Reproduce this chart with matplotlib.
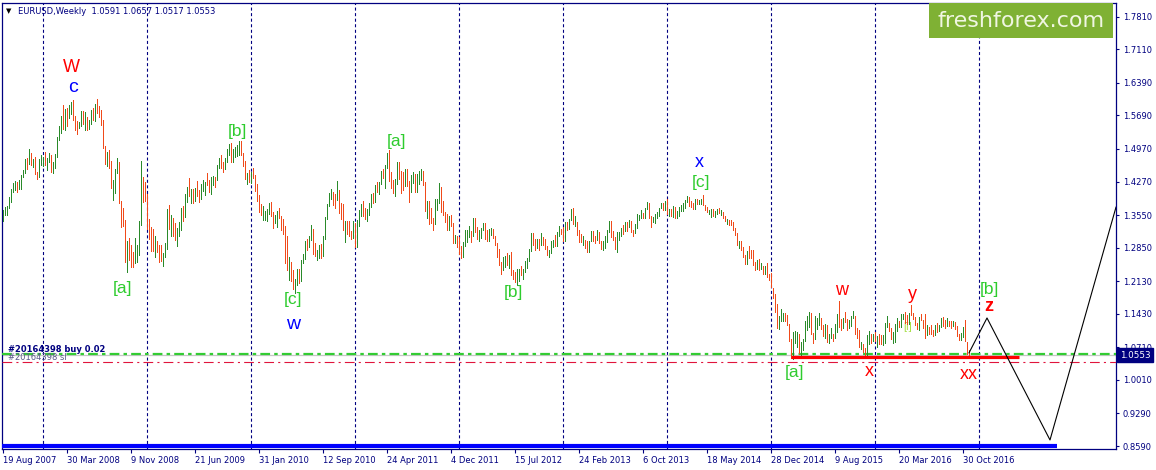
import numpy as np
import matplotlib
matplotlib.use("Agg")
import matplotlib.pyplot as plt
from matplotlib.patches import Rectangle
from matplotlib.transforms import blended_transform_factory

plt.rcParams['lines.scale_dashes'] = False
plt.rcParams['font.family'] = ['DejaVu Sans']

# ---------------- DATA (weekly EURUSD, (high, low, close)) ----------------
first_open = 1.351
bars_2007 = [(1.365,1.343,1.358),(1.372,1.356,1.369),(1.374,1.355,1.372),(1.393,1.371,1.388),
             (1.411,1.383,1.409),(1.423,1.404,1.422),(1.428,1.409,1.423),(1.427,1.405,1.418),
             (1.430,1.411,1.428),(1.441,1.412,1.440),(1.452,1.436,1.449),(1.475,1.446,1.468),
             (1.478,1.453,1.465),(1.497,1.464,1.482),(1.489,1.462,1.466),(1.476,1.458,1.466),
             (1.480,1.444,1.444),(1.448,1.432,1.437),(1.475,1.436,1.473),(1.484,1.463,1.475)]
bars_2008 = [(1.480,1.460,1.478),(1.490,1.463,1.465),(1.478,1.452,1.468),(1.489,1.470,1.483),
             (1.484,1.448,1.450),(1.469,1.445,1.460),(1.486,1.457,1.483),(1.523,1.479,1.520),
             (1.546,1.516,1.535),(1.568,1.532,1.566),(1.591,1.539,1.543),(1.583,1.538,1.578),
             (1.584,1.546,1.569),(1.592,1.563,1.580),(1.597,1.572,1.592),(1.602,1.559,1.561),
             (1.567,1.538,1.546),(1.557,1.529,1.537),(1.555,1.542,1.552),(1.579,1.547,1.577),
             (1.578,1.550,1.554),(1.576,1.538,1.574),(1.566,1.537,1.546),(1.560,1.540,1.556),
             (1.580,1.551,1.577),(1.584,1.560,1.565),(1.593,1.558,1.590),(1.604,1.575,1.577),
             (1.590,1.565,1.572),(1.580,1.549,1.554),(1.559,1.500,1.500),(1.504,1.465,1.468),
             (1.491,1.460,1.486),(1.494,1.457,1.467),(1.471,1.414,1.422),(1.430,1.388,1.423),
             (1.453,1.403,1.446),(1.478,1.446,1.462),(1.470,1.380,1.380),(1.385,1.330,1.345),
             (1.370,1.331,1.341),(1.344,1.254,1.270),(1.300,1.233,1.297),(1.305,1.259,1.271),
             (1.290,1.244,1.270),(1.276,1.244,1.258),(1.306,1.252,1.270),(1.291,1.255,1.279),
             (1.342,1.269,1.338),(1.472,1.334,1.437),(1.437,1.384,1.404),(1.427,1.385,1.398)]
bars_2009 = [(1.400,1.325,1.342),(1.347,1.303,1.322),(1.330,1.278,1.283),(1.326,1.278,1.280),
             (1.311,1.265,1.298),(1.299,1.276,1.287),(1.291,1.255,1.285),(1.290,1.257,1.266),
             (1.274,1.246,1.267),(1.296,1.266,1.291),(1.369,1.283,1.358),(1.376,1.325,1.327),
             (1.355,1.311,1.348),(1.349,1.310,1.318),(1.338,1.301,1.303),(1.327,1.289,1.325),
             (1.340,1.311,1.328),(1.370,1.322,1.365),(1.375,1.343,1.351),(1.400,1.350,1.397),
             (1.416,1.383,1.414),(1.434,1.397,1.399),(1.410,1.381,1.402),(1.411,1.380,1.399),
             (1.413,1.386,1.411),(1.428,1.395,1.397),(1.409,1.384,1.395),(1.421,1.389,1.413),
             (1.430,1.407,1.420),(1.425,1.398,1.424),(1.446,1.419,1.420),(1.431,1.405,1.418),
             (1.436,1.400,1.434),(1.440,1.419,1.436),(1.436,1.415,1.432),(1.463,1.430,1.458),
             (1.478,1.456,1.471),(1.484,1.457,1.468),(1.470,1.448,1.456),(1.477,1.453,1.474),
             (1.496,1.469,1.490),(1.508,1.485,1.502),(1.509,1.469,1.471),(1.496,1.468,1.491),
             (1.502,1.479,1.491),(1.506,1.482,1.496),(1.514,1.483,1.500),(1.514,1.485,1.485),
             (1.489,1.461,1.461),(1.472,1.433,1.434),(1.445,1.421,1.434),(1.451,1.426,1.433)]
bars_2010 = [(1.447,1.424,1.441),(1.457,1.435,1.438),(1.441,1.407,1.414),(1.421,1.385,1.387),
             (1.399,1.362,1.367),(1.379,1.355,1.360),(1.374,1.344,1.361),(1.364,1.344,1.363),
             (1.369,1.343,1.363),(1.381,1.357,1.377),(1.383,1.352,1.354),(1.362,1.327,1.342),
             (1.356,1.337,1.348),(1.364,1.329,1.358),(1.370,1.349,1.350),(1.353,1.323,1.339),
             (1.346,1.315,1.329),(1.331,1.253,1.276),(1.309,1.236,1.236),(1.266,1.216,1.258),
             (1.254,1.214,1.227),(1.238,1.196,1.197),(1.217,1.188,1.212),(1.240,1.204,1.239),
             (1.239,1.210,1.236),(1.258,1.214,1.256),(1.271,1.253,1.264),(1.299,1.260,1.293),
             (1.303,1.280,1.291),(1.311,1.286,1.306),(1.333,1.301,1.328),(1.325,1.272,1.276),
             (1.294,1.267,1.271),(1.279,1.259,1.276),(1.290,1.262,1.290),(1.293,1.263,1.269),
             (1.311,1.268,1.306),(1.350,1.303,1.349),(1.379,1.347,1.378),(1.403,1.375,1.396),
             (1.412,1.389,1.397),(1.404,1.377,1.396),(1.400,1.371,1.394),(1.428,1.388,1.402),
             (1.408,1.359,1.368),(1.380,1.346,1.366),(1.379,1.324,1.325),(1.342,1.298,1.340),
             (1.343,1.315,1.329),(1.343,1.311,1.318),(1.321,1.303,1.312),(1.343,1.306,1.337)]
bars_2011 = [(1.339,1.287,1.290),(1.345,1.287,1.340),(1.365,1.331,1.360),(1.378,1.354,1.369),
             (1.386,1.353,1.358),(1.370,1.347,1.349),(1.369,1.343,1.369),(1.382,1.355,1.375),
             (1.400,1.372,1.399),(1.402,1.380,1.390),(1.420,1.383,1.418),(1.425,1.404,1.410),
             (1.425,1.401,1.424),(1.450,1.421,1.448),(1.453,1.435,1.443),(1.462,1.414,1.458),
             (1.488,1.456,1.481),(1.494,1.429,1.433),(1.447,1.414,1.418),(1.431,1.402,1.416),
             (1.432,1.397,1.431),(1.469,1.422,1.465),(1.470,1.432,1.434),(1.450,1.403,1.432),
             (1.448,1.409,1.421),(1.454,1.418,1.450),(1.455,1.418,1.419),(1.428,1.384,1.415),
             (1.442,1.404,1.436),(1.448,1.424,1.440),(1.444,1.404,1.425),(1.443,1.405,1.426),
             (1.449,1.421,1.441),(1.454,1.431,1.450),(1.450,1.419,1.419),(1.426,1.363,1.365),
             (1.386,1.349,1.379),(1.385,1.336,1.350),(1.370,1.339,1.339),(1.349,1.322,1.337),
             (1.389,1.336,1.380),(1.390,1.366,1.390),(1.424,1.380,1.415),(1.415,1.361,1.378),
             (1.385,1.355,1.375),(1.362,1.341,1.352),(1.357,1.322,1.324),(1.354,1.323,1.346),
             (1.355,1.331,1.338),(1.339,1.295,1.304),(1.312,1.294,1.305),(1.309,1.286,1.296)]
bars_2012 = [(1.308,1.271,1.272),(1.288,1.262,1.268),(1.297,1.266,1.294),(1.323,1.289,1.313),
             (1.323,1.298,1.315),(1.332,1.307,1.319),(1.321,1.297,1.316),(1.349,1.310,1.345),
             (1.349,1.318,1.320),(1.329,1.303,1.311),(1.323,1.300,1.318),(1.328,1.306,1.327),
             (1.339,1.322,1.334),(1.338,1.304,1.309),(1.323,1.299,1.308),(1.326,1.299,1.322),
             (1.327,1.312,1.323),(1.325,1.306,1.308),(1.310,1.290,1.292),(1.294,1.264,1.278),
             (1.283,1.248,1.252),(1.254,1.229,1.241),(1.266,1.238,1.264),(1.267,1.244,1.264),
             (1.274,1.247,1.251),(1.269,1.241,1.266),(1.275,1.227,1.228),(1.238,1.217,1.225),
             (1.233,1.212,1.216),(1.240,1.204,1.238),(1.240,1.213,1.239),(1.245,1.227,1.229),
             (1.240,1.218,1.234),(1.256,1.232,1.251),(1.263,1.242,1.258),(1.282,1.256,1.280),
             (1.317,1.278,1.313),(1.317,1.290,1.298),(1.304,1.280,1.286),(1.304,1.284,1.303),
             (1.304,1.280,1.295),(1.317,1.291,1.303),(1.308,1.290,1.294),(1.303,1.282,1.283),
             (1.288,1.270,1.271),(1.280,1.266,1.275),(1.299,1.273,1.297),(1.301,1.286,1.299),
             (1.312,1.289,1.293),(1.318,1.288,1.317),(1.331,1.311,1.322),(1.326,1.314,1.319)]
bars_2013 = [(1.330,1.300,1.307),(1.340,1.300,1.339),(1.340,1.323,1.331),(1.346,1.325,1.346),
             (1.369,1.344,1.364),(1.371,1.335,1.336),(1.352,1.331,1.336),(1.340,1.312,1.318),
             (1.324,1.298,1.302),(1.315,1.297,1.300),(1.311,1.291,1.307),(1.302,1.285,1.299),
             (1.299,1.275,1.282),(1.300,1.275,1.300),(1.321,1.300,1.311),(1.320,1.300,1.305),
             (1.309,1.294,1.303),(1.324,1.302,1.311),(1.319,1.295,1.297),(1.300,1.282,1.284),
             (1.300,1.280,1.293),(1.311,1.285,1.300),(1.324,1.298,1.322),(1.342,1.318,1.335),
             (1.342,1.308,1.311),(1.320,1.301,1.301),(1.308,1.282,1.282),(1.318,1.275,1.307),
             (1.318,1.301,1.313),(1.328,1.311,1.328),(1.334,1.314,1.327),(1.340,1.320,1.340),
             (1.340,1.321,1.333),(1.345,1.330,1.338),(1.343,1.319,1.322),(1.324,1.310,1.319),
             (1.335,1.317,1.330),(1.357,1.328,1.352),(1.355,1.344,1.353),(1.365,1.349,1.356),
             (1.360,1.348,1.355),(1.370,1.348,1.368),(1.383,1.367,1.380),(1.382,1.348,1.349),
             (1.353,1.329,1.336),(1.351,1.340,1.349),(1.357,1.338,1.356),(1.362,1.349,1.359),
             (1.370,1.353,1.370),(1.381,1.370,1.374),(1.381,1.365,1.367),(1.386,1.366,1.375)]
bars_2014 = [(1.389,1.358,1.359),(1.369,1.352,1.368),(1.369,1.352,1.354),(1.374,1.350,1.368),
             (1.373,1.348,1.349),(1.363,1.348,1.363),(1.372,1.353,1.369),(1.377,1.364,1.373),
             (1.382,1.364,1.380),(1.388,1.371,1.387),(1.397,1.383,1.391),(1.394,1.374,1.378),
             (1.385,1.372,1.375),(1.382,1.367,1.370),(1.390,1.368,1.388),(1.390,1.379,1.381),
             (1.388,1.378,1.385),(1.389,1.378,1.387),(1.399,1.376,1.376),(1.377,1.365,1.370),
             (1.373,1.361,1.363),(1.366,1.358,1.363),(1.367,1.350,1.364),(1.368,1.352,1.355),
             (1.364,1.351,1.361),(1.368,1.357,1.364),(1.371,1.359,1.360),(1.365,1.355,1.360),
             (1.362,1.349,1.352),(1.353,1.342,1.343),(1.346,1.336,1.343),(1.345,1.333,1.341),
             (1.345,1.333,1.340),(1.340,1.324,1.324),(1.327,1.313,1.313),(1.317,1.290,1.295),
             (1.300,1.285,1.297),(1.300,1.280,1.283),(1.286,1.266,1.268),(1.270,1.250,1.252),
             (1.277,1.250,1.276),(1.289,1.262,1.272),(1.280,1.262,1.267),(1.280,1.247,1.252),
             (1.255,1.236,1.244),(1.258,1.240,1.252),(1.261,1.236,1.239),(1.252,1.240,1.245),
             (1.246,1.228,1.229),(1.246,1.228,1.244),(1.253,1.223,1.226),(1.229,1.216,1.223)]
bars_2015 = [(1.230,1.200,1.200),(1.199,1.176,1.184),(1.186,1.146,1.156),(1.164,1.112,1.121),
             (1.139,1.110,1.129),(1.153,1.127,1.132),(1.144,1.127,1.139),(1.144,1.128,1.138),
             (1.140,1.119,1.119),(1.122,1.084,1.084),(1.088,1.049,1.049),(1.104,1.046,1.082),
             (1.105,1.081,1.089),(1.104,1.072,1.097),(1.100,1.059,1.060),(1.083,1.052,1.081),
             (1.089,1.066,1.087),(1.127,1.084,1.120),(1.139,1.108,1.120),(1.147,1.114,1.145),
             (1.145,1.099,1.101),(1.101,1.081,1.099),(1.138,1.089,1.111),(1.133,1.110,1.127),
             (1.144,1.119,1.135),(1.134,1.110,1.116),(1.118,1.096,1.109),(1.120,1.092,1.116),
             (1.119,1.082,1.083),(1.100,1.081,1.098),(1.113,1.091,1.098),(1.099,1.085,1.096),
             (1.121,1.091,1.112),(1.142,1.103,1.138),(1.171,1.115,1.118),(1.132,1.108,1.115),
             (1.135,1.113,1.134),(1.146,1.126,1.130),(1.132,1.108,1.121),(1.129,1.112,1.121),
             (1.139,1.117,1.134),(1.149,1.133,1.135),(1.139,1.100,1.102),(1.113,1.091,1.100),
             (1.109,1.071,1.074),(1.083,1.067,1.077),(1.078,1.062,1.065),(1.070,1.055,1.060),
             (1.098,1.052,1.088),(1.106,1.078,1.099),(1.100,1.080,1.087),(1.099,1.085,1.097)]
bars_2016 = [(1.103,1.085,1.087),(1.095,1.071,1.093),(1.099,1.078,1.092),(1.097,1.078,1.080),
             (1.098,1.077,1.083),(1.123,1.080,1.116),(1.138,1.114,1.125),(1.123,1.107,1.113),
             (1.112,1.088,1.093),(1.103,1.080,1.101),(1.122,1.082,1.116),(1.134,1.106,1.127),
             (1.127,1.115,1.118),(1.143,1.115,1.139),(1.142,1.131,1.140),(1.146,1.123,1.128),
             (1.141,1.121,1.123),(1.145,1.121,1.145),(1.162,1.140,1.140),(1.144,1.131,1.131),
             (1.136,1.119,1.122),(1.124,1.110,1.113),(1.137,1.109,1.136),(1.142,1.129,1.131),
             (1.130,1.113,1.128),(1.142,1.091,1.112),(1.118,1.097,1.114),(1.115,1.100,1.105),
             (1.118,1.100,1.104),(1.108,1.095,1.098),(1.118,1.097,1.117),(1.124,1.104,1.109),
             (1.119,1.107,1.117),(1.135,1.115,1.132),(1.136,1.117,1.120),(1.130,1.113,1.115),
             (1.133,1.117,1.125),(1.127,1.117,1.124),(1.127,1.113,1.122),(1.128,1.116,1.124),
             (1.126,1.110,1.120),(1.116,1.096,1.097),(1.100,1.086,1.089),(1.101,1.086,1.098),
             (1.114,1.094,1.113),(1.130,1.085,1.085),(1.082,1.057,1.059),(1.0657,1.0517,1.0553)]

date_labels = ["19 Aug 2007", "30 Mar 2008", "9 Nov 2008", "21 Jun 2009", "31 Jan 2010",
               "12 Sep 2010", "24 Apr 2011", "4 Dec 2011", "15 Jul 2012", "24 Feb 2013",
               "6 Oct 2013", "18 May 2014", "28 Dec 2014", "9 Aug 2015", "20 Mar 2016",
               "30 Oct 2016"]
date_label_idx = [0, 32, 64, 96, 128, 160, 192, 224, 256, 288, 320, 352, 384, 416, 448, 480]
grid_idx = [20, 72, 124, 176, 228, 280, 332, 384, 436, 488]
price_ticks = [1.7810, 1.7110, 1.6390, 1.5690, 1.4970, 1.4270, 1.3550, 1.2850,
               1.2130, 1.1430, 1.0710, 1.0010, 0.9290, 0.8590]

bid_price = 1.0553
order_price = 1.0556
sl_price = 1.0390
support_price = 1.0500
support_idx = [394, 508]
projection_idx = [483, 492, 523.5, 556.5]
projection_price = [1.059, 1.134, 0.872, 1.372]
bottom_bar_idx = [-0.5, 527]
bottom_bar_price = 0.8583

header_text = "EURUSD,Weekly  1.0591 1.0657 1.0517 1.0553"
order_text = "#20164398 buy 0.02"
sl_text = "#20164398 sl"

RED, BLUE, GREEN = '#ff0000', '#0000ff', '#2ecc2e'
wave_labels = [
    ("W", 34, 1.673, RED, 13, 'normal'),
    ("c", 35, 1.628, BLUE, 14, 'normal'),
    ("[a]", 60, 1.198, GREEN, 12.5, 'normal'),
    ("[b]", 117, 1.535, GREEN, 12.5, 'normal'),
    ("[c]", 145, 1.173, GREEN, 12.5, 'normal'),
    ("w", 145, 1.119, BLUE, 14, 'normal'),
    ("[a]", 197, 1.512, GREEN, 12.5, 'normal'),
    ("[b]", 255, 1.188, GREEN, 12.5, 'normal'),
    ("x", 348, 1.467, BLUE, 13, 'normal'),
    ("[c]", 349, 1.424, GREEN, 12.5, 'normal'),
    ("w", 419.5, 1.194, RED, 13, 'normal'),
    ("x", 433, 1.018, RED, 13, 'normal'),
    ("y", 454.5, 1.184, RED, 13, 'normal'),
    ("[b]", 493, 1.196, GREEN, 12.5, 'normal'),
    ("z", 493, 1.159, RED, 13, 'bold'),
    ("[a]", 395.5, 1.016, GREEN, 12.5, 'normal'),
    ("xx", 483, 1.013, RED, 13, 'normal'),
]

# ---------------- BUILD ----------------
bars = bars_2007 + bars_2008 + bars_2009 + bars_2010 + bars_2011 + bars_2012 + \
       bars_2013 + bars_2014 + bars_2015 + bars_2016
highs = np.array([b[0] for b in bars])
lows = np.array([b[1] for b in bars])
closes = np.array([b[2] for b in bars])
idx = np.arange(len(bars))
opens = np.concatenate([[first_open], closes[:-1]])
up = closes >= opens

NAVY = '#000080'
W_PX, H_PX = 1156, 470
fig = plt.figure(figsize=(W_PX / 100, H_PX / 100), dpi=100)
fig.patch.set_facecolor('white')
ax = fig.add_axes([2 / W_PX, (H_PX - 449) / H_PX, 1114 / W_PX, 446 / H_PX])
ax.set_xlim(-0.5, 556.5)
ax.set_ylim(0.8526, 1.8105)
for s in ax.spines.values():
    s.set_color(NAVY)
    s.set_linewidth(0.9)

# grid
for g in grid_idx:
    ax.axvline(g, color=NAVY, lw=0.8, linestyle=(0, (2.2, 1.8)), zorder=1)

# bid line, order lines
ax.axhline(bid_price, color='#c8c8c8', lw=0.9, zorder=2)
ax.axhline(order_price, color='#33cc33', lw=1.6, linestyle=(0, (7, 3, 2.5, 3)), zorder=3)
ax.axhline(sl_price, color='#e0143c', lw=0.8, linestyle=(0, (7, 3, 1.5, 3)), zorder=3)

# bottom blue bar
ax.plot(bottom_bar_idx, [bottom_bar_price] * 2, color='#0000ff', lw=3.0,
        solid_capstyle='butt', zorder=4)

# price bars
ax.vlines(idx[up], lows[up], highs[up], color='#2a8a2a', lw=0.72, zorder=4,
          antialiased=False)
ax.vlines(idx[~up], lows[~up], highs[~up], color='#f04a1a', lw=0.72, zorder=4,
          antialiased=False)

# small hidden label
ax.text(452.5, 1.115, "[i]", color='#a8e04a', fontsize=8, ha='center', va='center',
        family='Liberation Sans', zorder=3.5)

# support line
ax.plot(support_idx, [support_price] * 2, color='#ff0000', lw=2.3,
        solid_capstyle='butt', zorder=5)

# projection
ax.plot(projection_idx, projection_price, color='black', lw=0.8, zorder=6)

# order texts
ax.text(2.5, sl_price + 0.001, sl_text, color='#5a5a8a', fontsize=6, ha='left',
        va='bottom', zorder=6)
ax.text(2.5, order_price + 0.002, order_text, color=NAVY, fontsize=6, ha='left',
        va='bottom', zorder=7, fontweight='bold', family='DejaVu Sans')

# wave labels
for t, xi, yp, col, fs, fw in wave_labels:
    ax.text(xi, yp, t, color=col, fontsize=fs, fontweight=fw, ha='center', va='center',
            family='Liberation Sans', zorder=8)

# axes ticks
ax.yaxis.tick_right()
ax.set_yticks(price_ticks)
ax.set_yticklabels([f"{p:.4f}" for p in price_ticks])
ax.tick_params(axis='y', direction='out', length=2.5, width=0.8, color=NAVY,
               labelcolor=NAVY, labelsize=6, pad=2.5)
ax.set_xticks(date_label_idx)
ax.set_xticklabels(date_labels, ha='left')
ax.tick_params(axis='x', direction='out', length=3, width=0.8, color=NAVY,
               labelcolor=NAVY, labelsize=6, pad=2)

# current price box
tr = blended_transform_factory(ax.transAxes, ax.transData)
ax.text(1.0035, bid_price - 0.001, f"{bid_price:.4f}", transform=tr, color='white',
        fontsize=6.3, ha='left', va='center', zorder=10, clip_on=False,
        bbox=dict(boxstyle='square,pad=0.32', facecolor=NAVY, edgecolor=NAVY))

# header
fig.text(6 / W_PX, 1 - 11 / H_PX, "\u25BC", fontsize=5, color='black', va='center', ha='left')
fig.text(18 / W_PX, 1 - 11 / H_PX, header_text, fontsize=6, color=NAVY, va='center', ha='left')

# logo
fig.add_artist(Rectangle((929 / W_PX, 1 - 38 / H_PX), 184 / W_PX, 35 / H_PX,
                         transform=fig.transFigure, facecolor='#7fb134', edgecolor='none',
                         zorder=20))
fig.text(1021 / W_PX, 1 - 21 / H_PX, "freshforex.com", fontsize=16, color='#f0f6e2',
         ha='center', va='center', zorder=21)

fig.savefig("out.png", dpi=100, facecolor='white')
